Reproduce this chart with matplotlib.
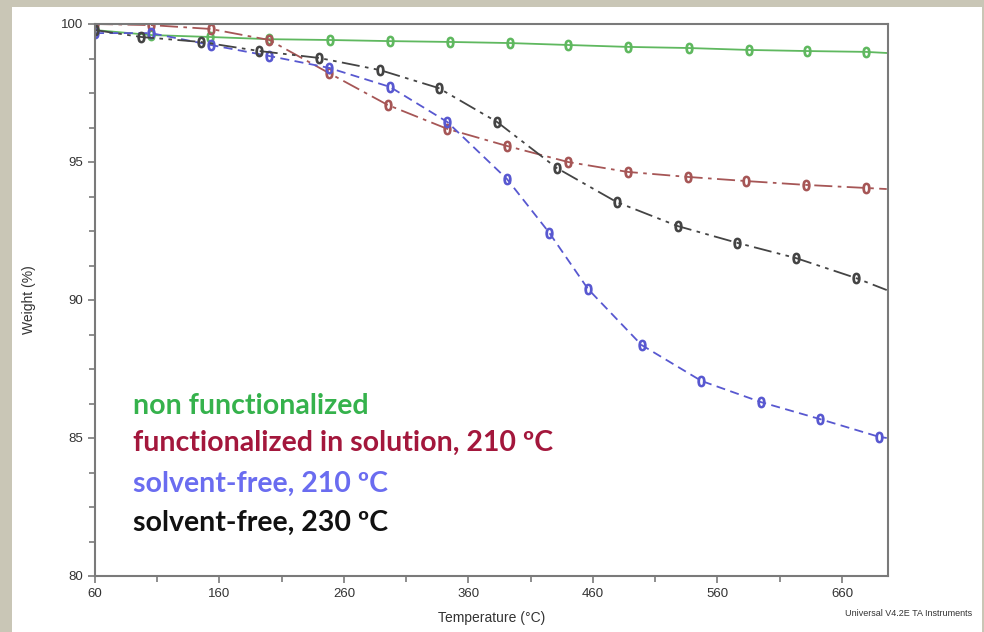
import matplotlib.pyplot as plt
from matplotlib.patches import Rectangle
from matplotlib.ticker import MultipleLocator

# TGA curves (temperature in °C, weight in %)
green_t = [60, 105, 152, 200, 249, 297, 345, 393, 440, 488, 537, 585, 632, 679, 696]
green_w = [99.78, 99.6, 99.53, 99.45, 99.42, 99.38, 99.35, 99.31, 99.24, 99.17, 99.13, 99.06, 99.02, 98.99, 98.95]

red_t = [60, 105, 153, 200, 248, 295, 343, 391, 440, 488, 536, 583, 631, 679, 696]
red_w = [100.0, 99.96, 99.82, 99.42, 98.22, 97.07, 96.2, 95.58, 95.0, 94.64, 94.46, 94.31, 94.17, 94.06, 94.02]

blue_t = [60, 105, 153, 200, 248, 297, 343, 391, 425, 456, 499, 547, 595, 642, 690, 696]
blue_w = [99.67, 99.67, 99.24, 98.84, 98.41, 97.72, 96.45, 94.38, 92.43, 90.4, 88.37, 87.07, 86.3, 85.69, 85.04, 85.0]

black_t = [60, 97, 145, 192, 240, 289, 336, 383, 431, 479, 528, 576, 623, 671, 696]
black_w = [99.78, 99.53, 99.35, 99.02, 98.77, 98.33, 97.68, 96.45, 94.78, 93.55, 92.68, 92.07, 91.52, 90.8, 90.36]

labels = ['non functionalized', 'functionalized in solution, 210 ºC',
          'solvent-free, 210 ºC', 'solvent-free, 230 ºC']
label_colors = ['#35b24c', '#a3173c', '#6a6cf0', '#111111']

W, H = 984, 632
fig = plt.figure(figsize=(W / 100, H / 100), dpi=100)
fig.patch.set_facecolor('#c9c6b6')
fig.patches.append(Rectangle((12 / W, 0), (982 - 12) / W, (H - 7) / H,
                             transform=fig.transFigure, facecolor='white',
                             edgecolor='none', zorder=-5))

ax = fig.add_axes([95 / W, (H - 576) / H, (888 - 95) / W, (576 - 24) / H])
ax.set_zorder(2)

# no marker on the last (end-of-run) point
mk = dict(marker='$0$', markersize=7.5, markevery=slice(0, -1))
ax.plot(green_t, green_w, color='#5fb85f', lw=1.3, ls='-', **mk)
ax.plot(red_t, red_w, color='#a65656', lw=1.3, ls=(0, (10, 3, 2, 3)), **mk)
ax.plot(blue_t, blue_w, color='#5858d0', lw=1.3, ls=(0, (5, 3)), **mk)
ax.plot(black_t, black_w, color='#444444', lw=1.3, ls=(0, (10, 3, 2, 3, 2, 3)), **mk)

ax.set_xlim(60, 697)
ax.set_ylim(80, 100)
ax.yaxis.set_major_locator(MultipleLocator(5))
ax.yaxis.set_minor_locator(MultipleLocator(1.25))
ax.set_xticks(range(60, 700, 100))
ax.set_xticks(range(110, 700, 100), minor=True)

for s in ax.spines.values():
    s.set_color('#7a7a7a')
    s.set_linewidth(1.5)
ax.tick_params(which='both', direction='out', color='#7a7a7a', width=1.2,
               labelsize=9.5, labelcolor='#333333')
ax.tick_params(which='major', length=5)
ax.tick_params(which='minor', length=4)
for t in ax.get_xticklabels() + ax.get_yticklabels():
    t.set_family('Liberation Sans')

ax.set_xlabel('Temperature (°C)', fontsize=10, family='Liberation Sans',
              color='#333333', labelpad=8)
ax.set_ylabel('Weight (%)', fontsize=10, family='Liberation Sans',
              color='#333333', labelpad=18)

fig.text(972 / W, 1 - 614 / H, 'Universal V4.2E TA Instruments', fontsize=6.5,
         family='Liberation Sans', color='#333333', ha='right', va='center')

# coloured legend text in the plot area
ys = [406, 443, 484, 523]
for lab, c, y in zip(labels, label_colors, ys):
    fig.text(133 / W, 1 - y / H, lab, color=c, fontsize=20.5, family='Lato',
             weight='bold', va='center', ha='left', zorder=5)

fig.savefig('out.png', dpi=100, facecolor=fig.get_facecolor())
